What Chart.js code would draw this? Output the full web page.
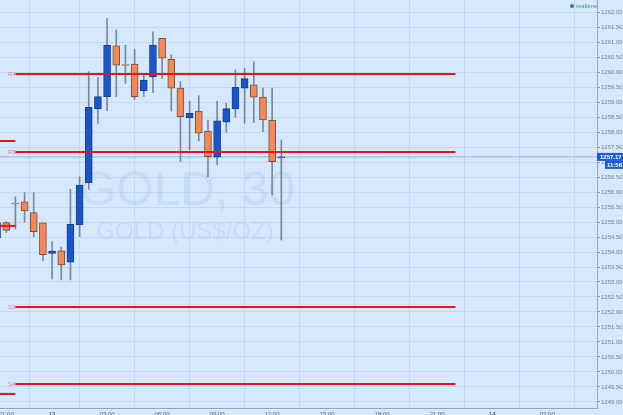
<!DOCTYPE html>
<html><head><meta charset="utf-8">
<script src="https://cdn.jsdelivr.net/npm/chart.js@4/dist/chart.umd.min.js"></script>
<style>html,body{margin:0;padding:0;background:#d5e8fd;overflow:hidden}#wrap{width:623px;height:415px;position:relative}</style>
</head><body><div id="wrap"><canvas id="c" width="623" height="415"></canvas></div>
<script>
// ---- data ----
const candleIdx = [-1,0,1,2,3,4,5,6,7,8,9,10,11,12,13,14,15,16,17,18,19,20,21,22,23,24,25,26,27,28,29,30];
const opens  = [1254.47,1254.98,1255.63,1255.67,1255.31,1254.97,1253.95,1254.04,1253.66,1254.90,1256.31,1258.77,1259.18,1260.87,1260.25,1260.26,1259.38,1259.84,1261.12,1260.42,1259.46,1258.48,1258.70,1258.03,1257.16,1258.33,1258.77,1259.46,1259.57,1259.16,1258.40,1257.14];
const highs  = [1255.00,1255.00,1255.84,1255.98,1255.98,1254.97,1254.34,1254.16,1256.09,1256.51,1260.01,1259.81,1261.79,1261.40,1260.90,1260.76,1259.90,1261.34,1261.12,1260.57,1259.68,1259.03,1259.21,1258.40,1259.03,1258.96,1260.07,1260.12,1260.34,1259.46,1259.46,1257.73];
const lows   = [1254.40,1254.65,1254.77,1254.99,1254.51,1253.71,1253.10,1253.07,1253.07,1254.51,1256.09,1258.29,1258.71,1259.18,1259.62,1259.09,1259.18,1259.31,1259.79,1258.70,1257.01,1257.40,1257.70,1256.51,1256.90,1257.99,1258.49,1258.29,1258.31,1258.01,1255.90,1254.40];
const closes = [1254.97,1254.72,1255.60,1255.37,1254.68,1253.91,1254.03,1253.57,1254.92,1256.23,1258.82,1259.18,1260.90,1260.23,1260.22,1259.18,1259.73,1260.90,1260.46,1259.46,1258.51,1258.62,1257.96,1257.18,1258.37,1258.78,1259.49,1259.78,1259.16,1258.40,1257.01,1257.17];

const xTickIdx    = [0,5,11,17,23,29,35,41,47,53,59];
const xTickLabels = ['21:00','13','03:00','06:00','09:00','12:00','15:00','18:00','21:00','14','03:00'];
const yTickValues = [1249,1249.5,1250,1250.5,1251,1251.5,1252,1252.5,1253,1253.5,1254,1254.5,1255,1255.5,1256,1256.5,1257,1257.5,1258,1258.5,1259,1259.5,1260,1260.5,1261,1261.5,1262];

const pivotNames  = ['R4','R3','S3','S4'];
const pivotValues = [1259.93,1257.33,1252.17,1249.60];
const pivotRange  = [1,49];
const prevPivotValues = [1257.70,1254.87,1249.27];
const lastPrice = 1257.17;
const lastTime = '11:58';
const watermark1 = 'GOLD, 30';
const watermark2 = 'GOLD (US$/OZ)';
const legendText = 'realtime';

// ---- view ----
const xMin = -0.68, xMax = 64.43;
const yMin = 1248.8, yMax = 1262.4;
const BG = '#d5e8fd', GRID = '#c2d9f3';
const UP = '#1a56c4', DOWN = '#f08a5c';

const bodies = candleIdx.map((k,i)=>({x:k, y:[opens[i], closes[i]]}));
const wicks  = candleIdx.map((k,i)=>({x:k, y:[lows[i], highs[i]]}));
const bodyColors = candleIdx.map((k,i)=> closes[i] >= opens[i] ? UP : DOWN);
const bodyBorders = candleIdx.map((k,i)=> closes[i] >= opens[i] ? '#1b3f80' : '#7a4e3a');

const datasets = [
  {type:'line', data:[{x:xMin,y:lastPrice},{x:xMax,y:lastPrice}], borderColor:'#9fb4d3', borderWidth:1, pointRadius:0, order:5},
  {type:'bar', data:wicks, backgroundColor:'#7d8894', barThickness:1, grouped:false, order:3, borderWidth:0},
  {type:'bar', data:bodies, backgroundColor:bodyColors, borderColor:bodyBorders, borderWidth:1, borderSkipped:false, barThickness:7, grouped:false, order:2},
];
pivotValues.forEach(v=>datasets.push({type:'line', data:[{x:pivotRange[0],y:v},{x:pivotRange[1],y:v}], borderColor:'#e8141c', borderWidth:2, pointRadius:0, order:0}));
prevPivotValues.forEach(v=>datasets.push({type:'line', data:[{x:xMin,y:v},{x:pivotRange[0],y:v}], borderColor:'#e8141c', borderWidth:2, pointRadius:0, order:0}));

const bgPlugin = {
  id:'bg',
  beforeDraw(chart){
    const c = chart.ctx; c.save(); c.fillStyle = BG; c.fillRect(0,0,chart.width,chart.height); c.restore();
  },
  beforeDatasetsDraw(chart){
    const c = chart.ctx, a = chart.chartArea;
    c.save();
    c.beginPath(); c.rect(a.left,a.top,a.right-a.left,a.bottom-a.top); c.clip();
    c.fillStyle = 'rgba(170,200,238,0.33)';
    c.textAlign = 'center'; c.textBaseline = 'alphabetic';
    c.font = '48px "Liberation Sans", Arial, sans-serif';
    c.fillText(watermark1, 187, 205);
    c.font = '24px "Liberation Sans", Arial, sans-serif';
    c.fillText(watermark2, 185, 239);
    c.restore();
  },
  afterDraw(chart){
    const c = chart.ctx, a = chart.chartArea, ys = chart.scales.y;
    c.save();
    // pivot labels
    c.font = '6px "Liberation Sans", Arial, sans-serif';
    c.fillStyle = '#e77b82'; c.textAlign = 'left'; c.textBaseline = 'middle';
    pivotNames.forEach((n,i)=>{ c.fillText(n, a.left+8, ys.getPixelForValue(pivotValues[i])); });
    // last price label
    const py = ys.getPixelForValue(lastPrice);
    c.fillStyle = '#1f5ed2';
    c.fillRect(a.right, py-4, 26, 8);
    c.fillRect(a.right+8, py+4, 18, 8);
    c.fillStyle = '#ffffff'; c.font = 'bold 6px "Liberation Sans", Arial, sans-serif';
    c.textAlign = 'left';
    c.fillText(lastPrice.toFixed(2), a.right+3, py);
    c.fillText(lastTime, a.right+10, py+8);
    // realtime legend
    c.fillStyle = '#2e8a4a';
    c.beginPath(); c.arc(a.right-25, 6, 2, 0, Math.PI*2); c.fill();
    c.fillStyle = '#4f9a68'; c.font = '6px "Liberation Sans", Arial, sans-serif';
    c.fillText(legendText, a.right-21, 6);
    c.restore();
  }
};

new Chart(document.getElementById('c').getContext('2d'), {
  type:'bar',
  data:{datasets},
  options:{
    responsive:false, animation:false,
    layout:{padding:0},
    plugins:{legend:{display:false}, tooltip:{enabled:false}},
    scales:{
      x:{
        type:'linear', min:xMin, max:xMax, offset:false, position:'bottom',
        afterBuildTicks: s=>{ s.ticks = xTickIdx.map(v=>({value:v})); },
        afterFit: s=>{ s.height = 7; s.paddingLeft = 0; s.paddingRight = 0; s.paddingTop = 0; s.paddingBottom = 0; },
        grid:{color:GRID, drawTicks:false},
        border:{color:'#9aa4b0'},
        ticks:{autoSkip:false, maxRotation:0, padding:3, color:'#666',
          font: ctx => ({family:'"Liberation Sans", Arial, sans-serif', size:6, weight: (/^\d\d$/.test(xTickLabels[ctx.index]||'')) ? 'bold' : 'normal'}),
          callback:(v,i)=>xTickLabels[i]}
      },
      y:{
        position:'right', min:yMin, max:yMax,
        afterBuildTicks: s=>{ s.ticks = yTickValues.map(v=>({value:v})); },
        afterFit: s=>{ s.width = 26; s.paddingTop = 0; s.paddingBottom = 0; s.paddingLeft = 0; s.paddingRight = 0; },
        grid:{color:GRID, tickLength:3, tickColor:'#8a96a4'},
        border:{color:'#9aa4b0'},
        ticks:{padding:1, color:'#7a7f86', font:{family:'"Liberation Sans", Arial, sans-serif', size:6}, callback:v=>Number(v).toFixed(2)}
      }
    }
  },
  plugins:[bgPlugin]
});
</script></body></html>
